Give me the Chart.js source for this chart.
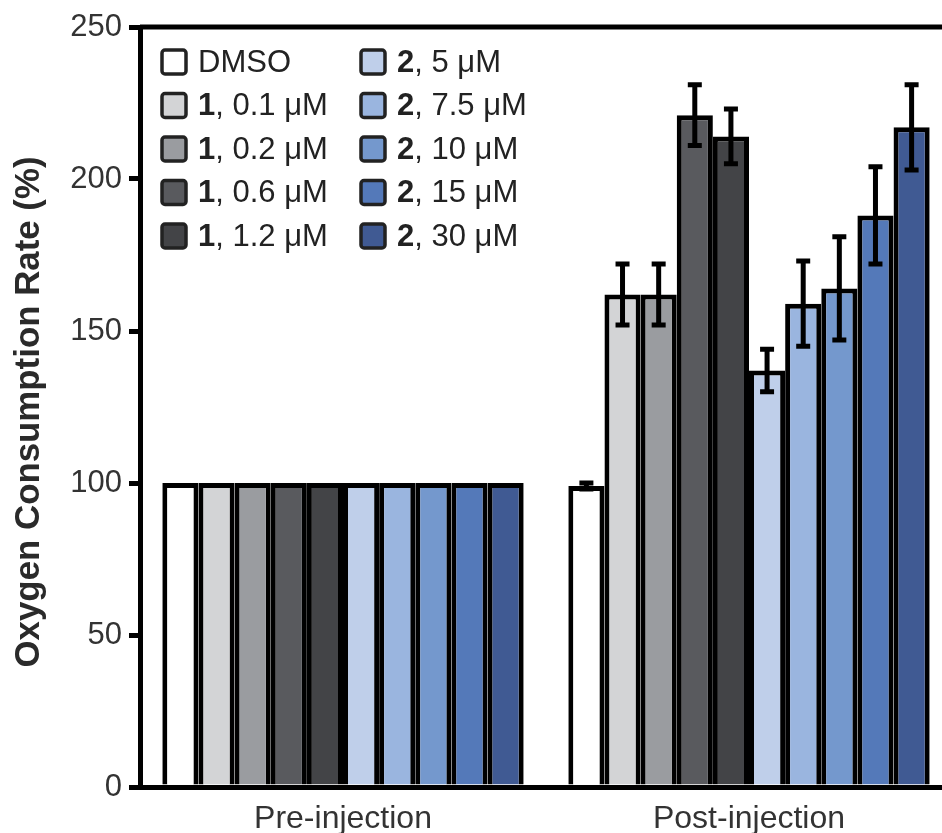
<!DOCTYPE html>
<html lang="en">
<head>
<meta charset="UTF-8">
<title>Oxygen consumption</title>
<script src="https://cdn.jsdelivr.net/npm/chart.js@4.4.0/dist/chart.umd.min.js"></script>
<style>
  html, body { margin: 0; padding: 0; background: #fff; overflow: hidden; }
  .wrap { width: 942px; height: 833px; overflow: hidden; position: relative; }
  .wrap canvas { position: absolute; left: 0; top: 0; }
</style>
</head>
<body>
<div class="wrap">
  <canvas id="chart" width="960" height="833"></canvas>
</div>
<script>
// data
const categories = ['Pre-injection', 'Post-injection'];
const seriesNames = ['DMSO', '1, 0.1 μM', '1, 0.2 μM', '1, 0.6 μM', '1, 1.2 μM',
                     '2, 5 μM', '2, 7.5 μM', '2, 10 μM', '2, 15 μM', '2, 30 μM'];
const preValues  = [100, 100, 100, 100, 100, 100, 100, 100, 100, 100];
const postValues = [99, 162, 162, 221, 214, 137, 159, 164, 188, 217];
const postErrors = [1, 10, 10, 10, 9, 7, 14, 17, 16, 14];
const yTicks = [0, 50, 100, 150, 200, 250];
const yTitle = 'Oxygen Consumption Rate (%)';

const colors = ['#ffffff', '#d3d4d6', '#9a9ca0', '#595a5e', '#434447',
                '#bfcfea', '#9ab5df', '#7498cd', '#5479b9', '#405a93'];
const FONT = '"Liberation Sans", Arial, sans-serif';

const datasets = seriesNames.map((name, i) => ({
  label: name,
  data: [preValues[i], postValues[i]],
  backgroundColor: colors[i],
  borderColor: '#000',
  borderWidth: 5,
  borderSkipped: 'bottom',
  barPercentage: 1,
  categoryPercentage: 0.89
}));

const errorBars = {
  id: 'errorBars',
  afterDatasetsDraw(chart) {
    const ctx = chart.ctx;
    const y = chart.scales.y;
    ctx.save();
    ctx.strokeStyle = '#000';
    ctx.lineWidth = 5;
    chart.data.datasets.forEach((ds, i) => {
      const bar = chart.getDatasetMeta(i).data[1];
      const v = postValues[i], e = postErrors[i];
      const top = y.getPixelForValue(v + e);
      const bot = y.getPixelForValue(v - e);
      const x = bar.x;
      ctx.beginPath();
      ctx.moveTo(x, top); ctx.lineTo(x, bot);
      ctx.moveTo(x - 7, top); ctx.lineTo(x + 7, top);
      ctx.moveTo(x - 7, bot); ctx.lineTo(x + 7, bot);
      ctx.stroke();
    });
    ctx.restore();
  }
};

const frame = {
  id: 'frame',
  afterDraw(chart) {
    const ctx = chart.ctx, a = chart.chartArea;
    ctx.save();
    ctx.strokeStyle = '#000';
    ctx.lineWidth = 5;
    ctx.beginPath();
    ctx.moveTo(a.left, a.top); ctx.lineTo(a.right, a.top); ctx.lineTo(a.right, a.bottom);
    ctx.stroke();

    // y title, bold and a little condensed
    ctx.save();
    ctx.translate(29, (a.top + a.bottom) / 2 + 5);
    ctx.rotate(-Math.PI / 2);
    ctx.font = 'bold 35px ' + FONT;
    const w = ctx.measureText(yTitle).width;
    ctx.scale(511 / w, 1);
    ctx.fillStyle = '#2a2a2a';
    ctx.textAlign = 'center';
    ctx.textBaseline = 'middle';
    ctx.fillText(yTitle, 0, 0);
    ctx.restore();

    // legend, two columns of five
    ctx.textBaseline = 'middle';
    seriesNames.forEach((name, i) => {
      const col = Math.floor(i / 5), row = i % 5;
      const bx = 162 + col * 199, cy = 62 + row * 43.5;
      ctx.fillStyle = colors[i];
      ctx.strokeStyle = '#222';
      ctx.lineWidth = 3.5;
      ctx.beginPath();
      ctx.roundRect(bx, cy - 12, 24, 24, 3);
      ctx.fill(); ctx.stroke();
      let tx = bx + 36;
      ctx.fillStyle = '#222';
      const k = name.indexOf(',');
      if (k > 0) {
        ctx.font = 'bold 31px ' + FONT;
        const b = name.slice(0, k);
        ctx.fillText(b, tx, cy + 1);
        tx += ctx.measureText(b).width;
        ctx.font = '31px ' + FONT;
        ctx.fillText(name.slice(k), tx, cy + 1);
      } else {
        ctx.font = '31px ' + FONT;
        ctx.fillText(name, tx, cy + 1);
      }
    });
    ctx.restore();
  }
};

new Chart(document.getElementById('chart'), {
  type: 'bar',
  data: { labels: categories, datasets: datasets },
  plugins: [errorBars, frame],
  options: {
    responsive: false,
    animation: false,
    layout: { padding: { top: 27, right: 8, left: 0, bottom: 0 } },
    plugins: { legend: { display: false }, tooltip: { enabled: false } },
    scales: {
      x: {
        grid: { display: false },
        border: { display: true, color: '#000', width: 5 },
        ticks: { color: '#333', font: { size: 32, family: FONT }, padding: 5 },
        afterFit(s) { s.height = 46; }
      },
      y: {
        min: 0, max: 250,
        afterBuildTicks(s) { s.ticks = yTicks.map(v => ({ value: v })); },
        grid: { drawOnChartArea: false, drawTicks: true, tickLength: 11, tickColor: '#000', lineWidth: 5 },
        border: { display: true, color: '#000', width: 5 },
        ticks: { color: '#333', font: { size: 31, family: FONT }, padding: 7 },
        afterFit(s) { s.width = 140; }
      }
    }
  }
});
</script>
</body>
</html>
